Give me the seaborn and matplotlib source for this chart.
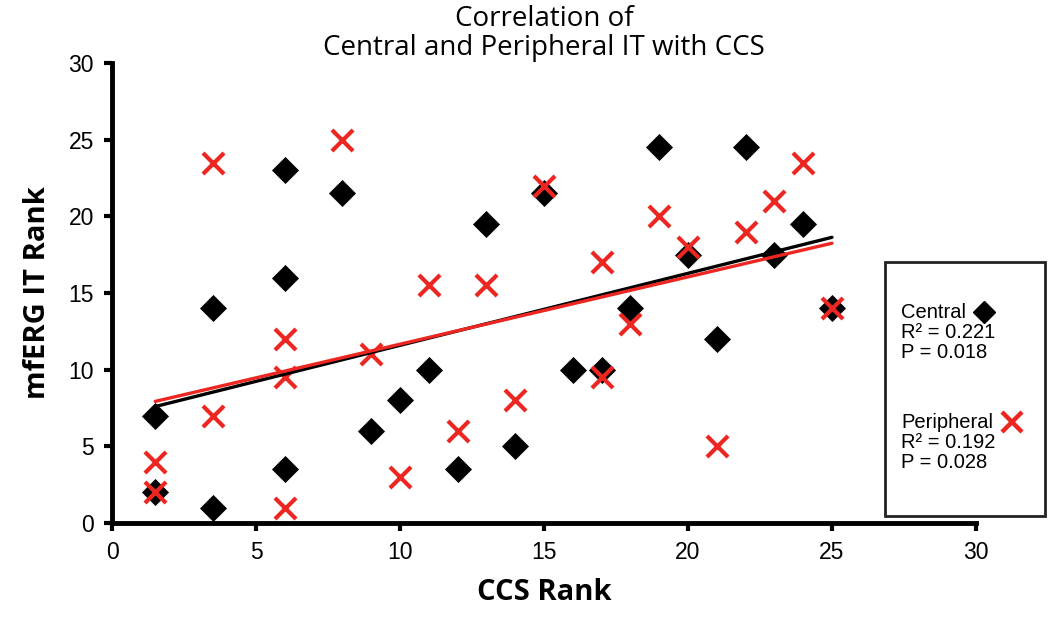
import numpy as np
import pandas as pd
import matplotlib
matplotlib.use("Agg")
import matplotlib.pyplot as plt
import seaborn as sns
from matplotlib.lines import Line2D
from matplotlib.patches import Rectangle

# CCS rank vs mfERG IT rank
central_x = [1.5, 1.5, 3.5, 3.5, 6, 6, 6, 8, 9, 10, 11, 12, 13, 14, 15, 16, 17, 18, 19, 20, 21, 22, 23, 24, 25]
central_y = [7, 2, 14, 1, 23, 16, 3.5, 21.5, 6, 8, 10, 3.5, 19.5, 5, 21.5, 10, 10, 14, 24.5, 17.5, 12, 24.5, 17.5, 19.5, 14]

periph_x = [1.5, 1.5, 3.5, 3.5, 6, 6, 6, 8, 9, 10, 11, 12, 13, 14, 15, 17, 17, 18, 19, 20, 21, 22, 23, 24, 25]
periph_y = [4, 2, 23.5, 7, 12, 9.5, 1, 25, 11, 3, 15.5, 6, 15.5, 8, 22, 17, 9.5, 13, 20, 18, 5, 19, 21, 23.5, 14]

ticks = [0, 5, 10, 15, 20, 25, 30]
RED = "#ec2722"

central = pd.DataFrame({"ccs": central_x, "it": central_y})
periph = pd.DataFrame({"ccs": periph_x, "it": periph_y})

sns.set_style("white")
plt.rcParams["font.family"] = ["Open Sans", "DejaVu Sans"]
plt.rcParams.update({"text.color": "black", "axes.labelcolor": "black",
                     "xtick.color": "black", "ytick.color": "black"})
ARIAL = ["Liberation Sans", "DejaVu Sans"]

fig = plt.figure(figsize=(10.5, 6.22), dpi=100)
ax = fig.add_axes([0.1067, 0.159, 0.8228, 0.7397])

# points
sns.scatterplot(data=central, x="ccs", y="it", marker="D", s=190, color="black",
                edgecolor="black", linewidth=0, ax=ax, zorder=3)
sns.scatterplot(data=periph, x="ccs", y="it", marker="x", s=230, color=RED,
                linewidth=3, ax=ax, zorder=4)

# linear trend lines
sns.regplot(data=central, x="ccs", y="it", scatter=False, ci=None, truncate=True,
            color="black", line_kws={"linewidth": 2.4, "zorder": 5}, ax=ax)
sns.regplot(data=periph, x="ccs", y="it", scatter=False, ci=None, truncate=True,
            color=RED, line_kws={"linewidth": 2.4, "zorder": 6}, ax=ax)

ax.set_xlim(0, 30)
ax.set_ylim(0, 30)
ax.set_xticks(ticks)
ax.set_yticks(ticks)
ax.tick_params(axis="both", labelsize=16.5, length=6, width=3, direction="out",
               bottom=True, left=True, pad=7, colors="black")
for lab in ax.get_xticklabels() + ax.get_yticklabels():
    lab.set_family(ARIAL)
for side in ["top", "right"]:
    ax.spines[side].set_visible(False)
for side in ["left", "bottom"]:
    ax.spines[side].set_linewidth(3.5)
    ax.spines[side].set_color("black")

ax.set_xlabel("CCS Rank", fontsize=21, fontweight="bold", labelpad=10, color="black")
ax.set_ylabel("mfERG IT Rank", fontsize=21, fontweight="bold", labelpad=12, color="black")
ax.set_title("Correlation of\nCentral and Peripheral IT with CCS", fontsize=20,
             linespacing=1.05, pad=6, color="black")

# stats box
fig.add_artist(Rectangle((885 / 1050, 1 - 516 / 622), 160 / 1050, 254 / 622,
                         transform=fig.transFigure, fill=False, edgecolor="#222222",
                         linewidth=2))
box_lines = [("Central", 313), ("R\u00b2 = 0.221", 333), ("P = 0.018", 353),
             ("Peripheral", 422), ("R\u00b2 = 0.192", 442), ("P = 0.028", 462)]
for txt, ypx in box_lines:
    fig.text(901 / 1050, 1 - ypx / 622, txt, fontsize=14.5, va="center", ha="left",
             family=ARIAL, color="black")
fig.add_artist(Line2D([984 / 1050], [1 - 312 / 622], marker="D", markersize=11.5,
                      color="black", linestyle="none", transform=fig.transFigure))
fig.add_artist(Line2D([1012 / 1050], [1 - 422 / 622], marker="x", markersize=14,
                      markeredgewidth=3.2, color=RED, linestyle="none",
                      transform=fig.transFigure))

fig.savefig("out.png", dpi=100)
